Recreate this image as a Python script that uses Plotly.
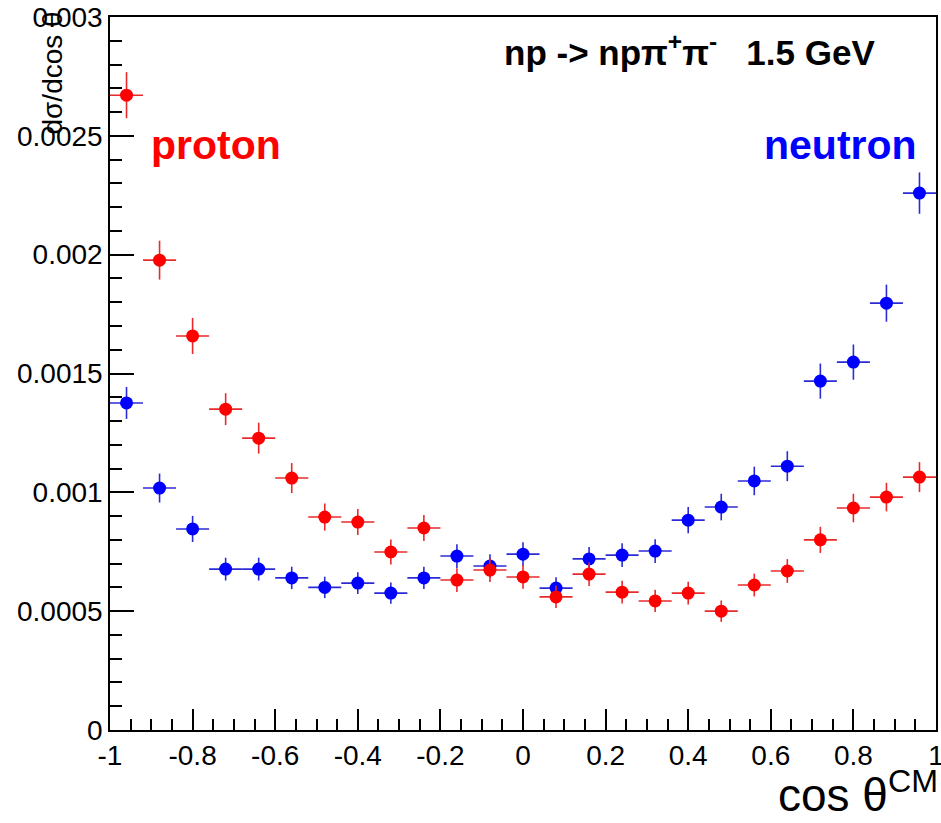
import plotly.graph_objects as go

# ---- data ----
cos_theta = [-0.96, -0.88, -0.80, -0.72, -0.64, -0.56, -0.48, -0.40, -0.32, -0.24,
             -0.16, -0.08, 0.00, 0.08, 0.16, 0.24, 0.32, 0.40, 0.48, 0.56,
             0.64, 0.72, 0.80, 0.88, 0.96]
bin_half_width = [0.04] * 25

proton = [0.002671, 0.001977, 0.001658, 0.001350, 0.001228, 0.001060, 0.000896, 0.000875,
          0.000749, 0.000850, 0.000631, 0.000673, 0.000644, 0.000560, 0.000656, 0.000580,
          0.000543, 0.000576, 0.000500, 0.000610, 0.000669, 0.000800, 0.000934, 0.000980,
          0.001064]
proton_err = [0.000097, 0.000082, 0.000076, 0.000067, 0.000065, 0.000063, 0.000057, 0.000055,
              0.000053, 0.000055, 0.000050, 0.000050, 0.000050, 0.000047, 0.000050, 0.000048,
              0.000047, 0.000048, 0.000045, 0.000048, 0.000050, 0.000055, 0.000060, 0.000060,
              0.000063]

neutron = [0.001376, 0.001018, 0.000846, 0.000677, 0.000677, 0.000640, 0.000600, 0.000618,
           0.000576, 0.000640, 0.000732, 0.000690, 0.000740, 0.000597, 0.000720, 0.000736,
           0.000753, 0.000883, 0.000938, 0.001048, 0.001110, 0.001468, 0.001548, 0.001796,
           0.002259]
neutron_err = [0.000067, 0.000061, 0.000055, 0.000048, 0.000048, 0.000047, 0.000045, 0.000046,
               0.000045, 0.000047, 0.000050, 0.000049, 0.000050, 0.000046, 0.000050, 0.000050,
               0.000050, 0.000055, 0.000056, 0.000060, 0.000063, 0.000074, 0.000074, 0.000078,
               0.000087]

x_tickvals = [-1, -0.8, -0.6, -0.4, -0.2, 0, 0.2, 0.4, 0.6, 0.8, 1]
x_ticktext = ["-1", "-0.8", "-0.6", "-0.4", "-0.2", "0", "0.2", "0.4", "0.6", "0.8", "1"]
y_tickvals = [0, 0.0005, 0.001, 0.0015, 0.002, 0.0025, 0.003]
y_ticktext = ["0", "0.0005", "0.001", "0.0015", "0.002", "0.0025", "0.003"]

FONT = "Liberation Sans, Arial, Helvetica, sans-serif"

fig = go.Figure()

fig.add_trace(go.Scatter(
    x=cos_theta, y=neutron, mode="markers", name="neutron",
    marker=dict(color="#0000ff", size=13, symbol="circle"),
    error_x=dict(type="data", array=bin_half_width, color="#2b2bd6", thickness=1.6, width=0),
    error_y=dict(type="data", array=neutron_err, color="#2b2bd6", thickness=1.6, width=0),
    showlegend=False,
))
fig.add_trace(go.Scatter(
    x=cos_theta, y=proton, mode="markers", name="proton",
    marker=dict(color="#ff0000", size=13, symbol="circle"),
    error_x=dict(type="data", array=bin_half_width, color="#e82a2a", thickness=1.6, width=0),
    error_y=dict(type="data", array=proton_err, color="#e82a2a", thickness=1.6, width=0),
    showlegend=False,
))

fig.update_layout(
    width=941, height=823,
    margin=dict(l=110, r=5, t=17, b=93, autoexpand=False),
    paper_bgcolor="white", plot_bgcolor="white",
    font=dict(family=FONT, color="black", size=28),
    xaxis=dict(
        range=[-1, 1], tickvals=x_tickvals, ticktext=x_ticktext,
        ticks="inside", ticklen=21, tickwidth=1.5, tickcolor="black",
        minor=dict(ticks="inside", ticklen=11, dtick=0.05, tick0=-1, tickcolor="black", tickwidth=1.5),
        showline=True, linecolor="black", linewidth=1.5, mirror=True,
        showgrid=False, zeroline=False, tickfont=dict(size=28),
        ticklabeloverflow="allow", automargin=False,
    ),
    yaxis=dict(
        range=[0, 0.003], tickvals=y_tickvals, ticktext=y_ticktext,
        ticks="inside", ticklen=24, tickwidth=1.5, tickcolor="black",
        minor=dict(ticks="inside", ticklen=12, dtick=0.0001, tick0=0, tickcolor="black", tickwidth=1.5),
        showline=True, linecolor="black", linewidth=1.5, mirror=True,
        showgrid=False, zeroline=False, tickfont=dict(size=28),
        ticklabeloverflow="allow", automargin=False,
    ),
)

annotations = [
    dict(text="<b>np -> np\u03c0<sup>+</sup>\u03c0<sup>-</sup>\u00a0\u00a0\u00a01.5 GeV</b>",
         xref="paper", yref="paper", x=(689 - 110) / 826, y=(730 - 50) / 713,
         xanchor="center", yanchor="middle", showarrow=False,
         font=dict(size=35, color="black", family=FONT)),
    dict(text="<b>proton</b>", xref="paper", yref="paper",
         x=(216 - 110) / 826, y=(730 - 145) / 713, xanchor="center", yanchor="middle",
         showarrow=False, font=dict(size=41, color="#ff0000", family=FONT)),
    dict(text="<b>neutron</b>", xref="paper", yref="paper",
         x=(840 - 110) / 826, y=(730 - 145) / 713, xanchor="center", yanchor="middle",
         showarrow=False, font=dict(size=41, color="#0000ff", family=FONT)),
    dict(text="d\u03c3/dcos \u03b8", xref="paper", yref="paper",
         x=(52 - 110) / 826, y=(730 - 10) / 713, xanchor="center", yanchor="top",
         textangle=-90, showarrow=False, font=dict(size=28, color="black", family=FONT)),
    dict(text="cos \u03b8<sup>CM</sup>", xref="paper", yref="paper",
         x=(940 - 110) / 826, y=(730 - 823) / 713, xanchor="right", yanchor="bottom",
         showarrow=False, font=dict(size=46, color="black", family=FONT)),
]
fig.update_layout(annotations=annotations)

fig.write_html("out.html")
